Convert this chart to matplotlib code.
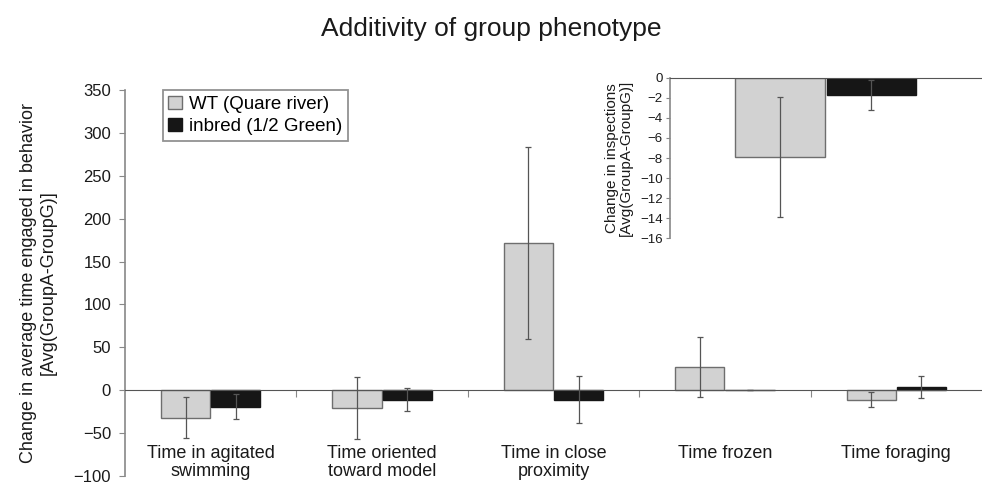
import numpy as np
import matplotlib
matplotlib.use('Agg')
import matplotlib.pyplot as plt
from matplotlib.transforms import blended_transform_factory

plt.rcParams['font.family'] = ['Liberation Sans', 'DejaVu Sans']

# main panel data
categories = ['Time in agitated\nswimming', 'Time oriented\ntoward model',
              'Time in close\nproximity', 'Time frozen', 'Time foraging']
wt_vals = [-32, -21, 172, 27, -11]
wt_err = [24, 36, 112, 34.5, 8.5]
inb_vals = [-19, -11, -11, 0.5, 4]
inb_err = [14, 13, 27, 0, 13]
series_names = ['WT (Quare river)', 'inbred (1/2 Green)']

# inset data (inspections)
ins_wt = [-7.9]
ins_wt_err = [6]
ins_inb = [-1.7]
ins_inb_err = [1.5]

wt_color = '#d2d2d2'
inb_color = '#161616'
edge = '#6e6e6e'
err_col = '#555555'

fig = plt.figure(figsize=(9.82, 4.90), dpi=100)
ax = fig.add_axes([0.1273, 0.0286, 0.8727, 0.7878])

x = np.arange(len(categories))
w = 0.287
off = 0.146
ax.bar(x - off, wt_vals, w, color=wt_color, edgecolor=edge, linewidth=1.0,
       label=series_names[0], zorder=2)
ax.bar(x + off, inb_vals, w, color=inb_color, edgecolor=inb_color, linewidth=1.0,
       label=series_names[1], zorder=2)
ax.errorbar(x - off, wt_vals, yerr=wt_err, fmt='none', ecolor=err_col,
            elinewidth=0.9, capsize=2, capthick=0.9, zorder=3)
ax.errorbar(x + off, inb_vals, yerr=inb_err, fmt='none', ecolor=err_col,
            elinewidth=0.9, capsize=2, capthick=0.9, zorder=3)

ax.set_xlim(-0.5, len(categories) - 0.5)
ax.set_ylim(-100, 350)
ax.set_yticks(np.arange(-100, 351, 50))
ax.set_yticklabels([str(v).replace('-', '\u2212') for v in range(-100, 351, 50)])
ax.set_xticks(np.arange(0.5, len(categories) - 0.5, 1))
ax.set_xticklabels([])
ax.spines['top'].set_visible(False)
ax.spines['right'].set_visible(False)
ax.spines['bottom'].set_position(('data', 0))
ax.spines['bottom'].set_color('#555555')
ax.spines['left'].set_color('#888888')
ax.spines['left'].set_linewidth(1.2)
ax.tick_params(axis='y', length=4, color='#888888', labelsize=12, pad=6,
               labelcolor='#1a1a1a')
ax.tick_params(axis='x', length=5, color='#888888', direction='out')

tr = blended_transform_factory(ax.transData, ax.transData)
for xi, lab in zip(x, categories):
    ax.text(xi, -64, lab, ha='center', va='top', fontsize=13,
            linespacing=1.1, color='#1a1a1a', transform=tr)

ax.set_ylabel('Change in average time engaged in behavior\n[Avg(GroupA-GroupG)]',
              fontsize=13, linespacing=1.2, labelpad=12, color='#1a1a1a')

leg = ax.legend(loc='upper left', bbox_to_anchor=(0.044, 1.0), fontsize=13.5,
                frameon=True, fancybox=False, edgecolor='#777777',
                handlelength=0.75, handleheight=0.75, handletextpad=0.35,
                borderpad=0.3, labelspacing=0.25, borderaxespad=0)
leg.get_frame().set_linewidth(1.3)

fig.text(0.5, 0.94, 'Additivity of group phenotype', fontsize=19,
         ha='center', va='center', color='#1a1a1a')

# inset
ax2 = fig.add_axes([0.682, 0.514, 0.318, 0.327])
ax2.bar([-0.146], ins_wt, w, color=wt_color, edgecolor=edge, linewidth=1.0, zorder=2)
ax2.bar([0.146], ins_inb, w, color=inb_color, edgecolor=inb_color, linewidth=1.0, zorder=2)
ax2.errorbar([-0.146], ins_wt, yerr=ins_wt_err, fmt='none', ecolor=err_col,
             elinewidth=0.9, capsize=2, capthick=0.9, zorder=3)
ax2.errorbar([0.146], ins_inb, yerr=ins_inb_err, fmt='none', ecolor=err_col,
             elinewidth=0.9, capsize=2, capthick=0.9, zorder=3)
ax2.set_xlim(-0.5, 0.5)
ax2.set_ylim(-16, 0)
ax2.set_yticks(np.arange(-16, 1, 2))
ax2.set_yticklabels([str(v).replace('-', '\u2212') for v in range(-16, 1, 2)])
ax2.set_xticks([])
for s in ['right', 'bottom']:
    ax2.spines[s].set_visible(False)
ax2.spines['top'].set_color('#555555')
ax2.spines['left'].set_color('#888888')
ax2.spines['left'].set_linewidth(1.2)
ax2.tick_params(axis='y', length=3, color='#888888', labelsize=9.5, pad=2,
                labelcolor='#1a1a1a')
ax2.set_ylabel('Change in inspections\n[Avg(GroupA-GroupG)]', fontsize=11,
               linespacing=1.05, labelpad=5, color='#1a1a1a')

fig.savefig('out.png', dpi=100)
